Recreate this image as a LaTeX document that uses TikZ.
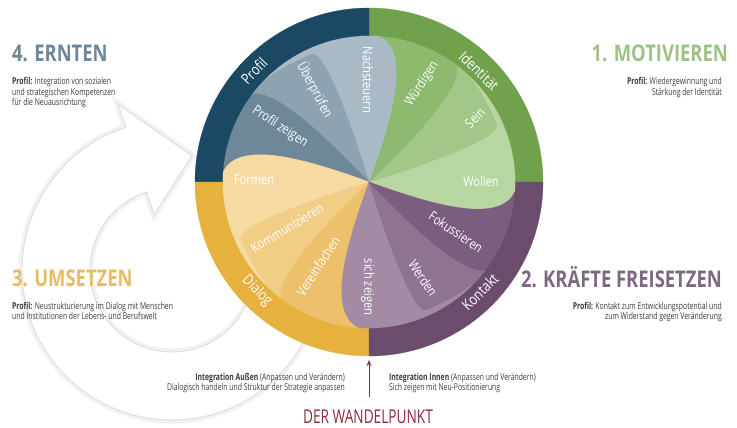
\documentclass[tikz,border=0pt]{standalone}
\usepackage{fontspec}
\setmainfont{Open Sans}
\newfontfamily\headf{Open Sans}[FakeStretch=0.8]
\newfontfamily\bodyf{Open Sans}[FakeStretch=0.72]
\newfontfamily\wheelf{Open Sans}[FakeStretch=0.82]
\usetikzlibrary{arrows.meta}

\definecolor{gR}{HTML}{72A14E}
\definecolor{gL}{HTML}{B8D6A2}
\definecolor{gM}{HTML}{A2C788}
\definecolor{gD}{HTML}{8DBA6E}
\definecolor{bR}{HTML}{1B4862}
\definecolor{bL}{HTML}{A9B9C5}
\definecolor{bM}{HTML}{8EA2B1}
\definecolor{bD}{HTML}{6E889A}
\definecolor{yR}{HTML}{E7B13E}
\definecolor{yL}{HTML}{F6DAA2}
\definecolor{yM}{HTML}{F2CD86}
\definecolor{yD}{HTML}{EDC16C}
\definecolor{pR}{HTML}{6B4C6D}
\definecolor{pL}{HTML}{A38BA5}
\definecolor{pM}{HTML}{8F7492}
\definecolor{pD}{HTML}{7B5E7F}
\definecolor{hB}{HTML}{6C8799}
\definecolor{hG}{HTML}{9DC384}
\definecolor{hP}{HTML}{7E6782}
\definecolor{hY}{HTML}{E8BD62}
\definecolor{wred}{HTML}{8E2B37}
\definecolor{bodycol}{HTML}{3C3C3C}

% petal boundary curves (q = start angle of quadrant)
\newcommand\Lfwd[1]{.. controls ({#1-20}:80) and ({#1-17}:140) .. ({#1-3}:147)}
\newcommand\Lrev[1]{.. controls ({#1-17}:140) and ({#1-20}:80) .. (0,0)}
\newcommand\Mfwd[1]{.. controls ({#1+17}:70) and ({#1+19}:138) .. ({#1+24}:140) .. controls ({#1+32}:142) and ({#1+42}:146) .. ({#1+50}:147)}
\newcommand\Mrev[1]{.. controls ({#1+42}:146) and ({#1+32}:142) .. ({#1+24}:140) .. controls ({#1+19}:138) and ({#1+17}:70) .. (0,0)}
\newcommand\Dfwd[1]{.. controls ({#1+44}:90) and ({#1+46}:170) .. ({#1+62}:147)}
\newcommand\Drev[1]{.. controls ({#1+46}:170) and ({#1+44}:90) .. (0,0)}

\newcommand\wheelquad[4]{%
 \path[fill=#2, draw=#2, line width=0.4pt] (0,0) \Lfwd{#1} -- ({#1-3}:175) arc[start angle={#1-3}, end angle={#1+50}, radius=175] -- ({#1+50}:147) \Mrev{#1} -- cycle;
 \path[fill=#3, draw=#3, line width=0.4pt] (0,0) \Mfwd{#1} -- ({#1+50}:175) arc[start angle={#1+50}, end angle={#1+62}, radius=175] -- ({#1+62}:147) \Drev{#1} -- cycle;
 \path[fill=#4, draw=#4, line width=0.4pt] (0,0) \Dfwd{#1} -- ({#1+62}:175) arc[start angle={#1+62}, end angle={#1+87}, radius=175] -- ({#1+87}:147) \Lrev{#1+90} -- cycle;
}
\newcommand\ringsec[2]{%
 \path[fill=#2, draw=#2, line width=0.3pt] (#1:146.5) arc[start angle=#1, end angle={#1+90}, radius=146.5] -- ({#1+90}:174) arc[start angle={#1+90}, end angle=#1, radius=174] -- cycle;
}
\newcommand\bgarrow{(108:150) arc[start angle=108, end angle=370, radius=150] -- (370:82) arc[start angle=370, end angle=108, radius=82] -- (108:58) -- (80:116) -- (108:174) -- cycle}

\tikzset{
  wl/.style={text=white, font=\wheelf\fontsize{13.5}{14}\selectfont, inner sep=0pt},
  rl/.style={text=white, font=\wheelf\fontsize{15}{16}\selectfont, inner sep=0pt},
  head/.style={font=\headf\bfseries\fontsize{23}{23}\selectfont, inner sep=0pt},
  bodytxt/.style={font=\bodyf\fontsize{9.5}{10.5}\selectfont, text=bodycol, inner sep=0pt},
  wparrow/.style={draw=wred, line width=1pt, -{Stealth[length=6pt,width=5pt]}},
}

\begin{document}
\begin{tikzpicture}[x=1pt, y=-1pt]
\useasboundingbox (0,0) rectangle (737,428);
\fill[white] (0,0) rectangle (737,428);

% faint circular arrow in the background
\begin{scope}[shift={(172,270)}, yscale=-1]
  \path[draw=black!5, line width=7pt] \bgarrow;
  \path[fill=white, draw=black!13, line width=1pt] \bgarrow;
\end{scope}

% the wheel
\begin{scope}[shift={(369,182)}, yscale=-1]
  \begin{scope}
    \clip (0,0) circle[radius=147.5];
    \wheelquad{0}{gL}{gM}{gD}
    \wheelquad{90}{bL}{bM}{bD}
    \wheelquad{180}{yL}{yM}{yD}
    \wheelquad{270}{pL}{pM}{pD}
  \end{scope}
  \ringsec{0}{gR}
  \ringsec{90}{bR}
  \ringsec{180}{yR}
  \ringsec{270}{pR}
\end{scope}

% ring labels
\node[rl, rotate=46]  (rProfil) at (254,71) {Profil};
\node[rl, rotate=-44] (rIdent)  at (479,71) {Identität};
\node[rl, rotate=45]  (rKont)   at (480,292) {Kontakt};
\node[rl, rotate=-46] (rDial)   at (257,291) {Dialog};

% inner labels
\node[wl, rotate=-90] (iNach)  at (368,80)  {Nachsteuern};
\node[wl, rotate=-62] (iUeber) at (315,90)  {Überprüfen};
\node[wl, rotate=-33] (iPZ)    at (280,127) {Profil zeigen};
\node[wl]             (iForm)  at (254,180) {Formen};
\node[wl, rotate=31]  (iKomm)  at (287,228) {Kommunizieren};
\node[wl, rotate=57]  (iVer)   at (318,266) {Vereinfachen};
\node[wl, rotate=-90] (iSich)  at (368,287) {sich zeigen};
\node[wl, rotate=-56] (iWerd)  at (423,278) {Werden};
\node[wl, rotate=-34] (iFok)   at (456,232) {Fokussieren};
\node[wl]             (iWoll)  at (481,181) {Wollen};
\node[wl, rotate=45]  (iSein)  at (475,118) {Sein};
\node[wl, rotate=57]  (iWuerd) at (422,84)  {Würdigen};

% headings
\node[head, text=hB, anchor=base west] (h4) at (12,61.5) {4. ERNTEN};
\node[head, text=hG, anchor=base east] (h1) at (728,61.5) {1. MOTIVIEREN};
\node[head, text=hP, anchor=base east] (h2) at (722,287) {2. KRÄFTE FREISETZEN};
\node[head, text=hY, anchor=base west] (h3) at (12,286) {3. UMSETZEN};

% profile texts
\node[bodytxt, align=left, anchor=north west] (p4) at (12,77.5)
  {\textbf{Profil:} Integration von sozialen\\und strategischen Kompetenzen\\für die Neuausrichtung};
\node[bodytxt, align=right, anchor=north east] (p1) at (722,77.5)
  {\textbf{Profil:} Wiedergewinnung und\\Stärkung der Identität};
\node[bodytxt, align=right, anchor=north east] (p2) at (722,302)
  {\textbf{Profil:} Kontakt zum Entwicklungspotential und\\zum Widerstand gegen Veränderung};
\node[bodytxt, align=left, anchor=north west] (p3) at (12,302)
  {\textbf{Profil:} Neustrukturierung im Dialog mit Menschen\\und Institutionen der Lebens- und Berufswelt};

% integration texts
\node[bodytxt, align=right, anchor=north east] (intA) at (345,373)
  {\textbf{Integration Außen} (Anpassen und Verändern)\\Dialogisch handeln und Struktur der Strategie anpassen};
\node[bodytxt, align=left, anchor=north west] (intI) at (389,373)
  {\textbf{Integration Innen} (Anpassen und Verändern)\\Sich zeigen mit Neu-Positionierung};

% Wandelpunkt
\coordinate (wpS) at (369,397);
\coordinate (wpT) at (369,360);
\draw[wparrow] (wpS) -- (wpT);
\node[font=\bodyf\fontsize{19}{19}\selectfont, text=wred, anchor=base, inner sep=0pt] (wp) at (368,423) {DER WANDELPUNKT};
\end{tikzpicture}
\end{document}
